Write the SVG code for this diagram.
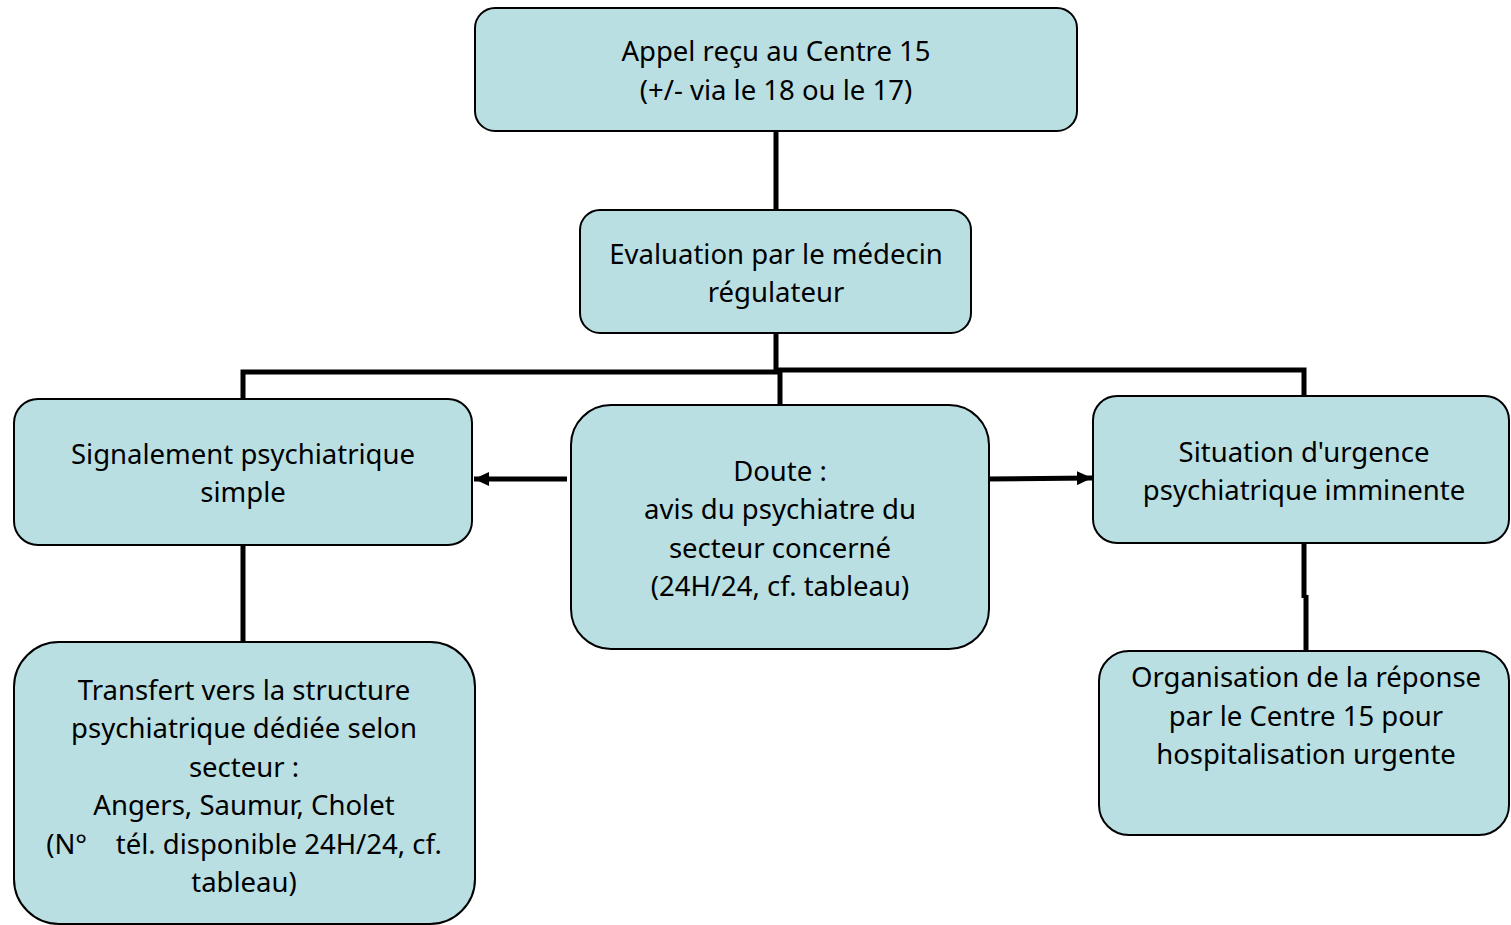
<svg xmlns="http://www.w3.org/2000/svg" width="1511" height="925" viewBox="0 0 1511 925">
<style>
.box{fill:#b9dfe3;stroke:#000;stroke-width:2}
.t{font-family:"Noto Sans","Open Sans","DejaVu Sans",sans-serif;font-size:27.5px;fill:#000;text-anchor:middle}
.c{stroke:#000;stroke-width:5;fill:none}
</style>
<defs>
<marker id="ah" markerWidth="3" markerHeight="2.8" refX="3" refY="1.4" orient="auto" markerUnits="strokeWidth">
<path d="M0,0 L3,1.4 L0,2.8 z" fill="#000"/>
</marker>
</defs>
<rect width="1511" height="925" fill="#fff"/>
<g id="connectors">
<path class="c" d="M776,131 V210"/>
<path class="c" d="M776,333 V372 H243 V399"/>
<path class="c" d="M776,370 H1304 V396"/>
<path class="c" d="M780,372 V405"/>
<path class="c" d="M567,479 H474" marker-end="url(#ah)"/>
<path class="c" d="M987,479 L1092,478" marker-end="url(#ah)"/>
<path class="c" d="M243,545 V642"/>
<path class="c" d="M1304,543 V598"/>
<path class="c" d="M1306,595 V651"/>
</g>
<g id="n1">
<rect class="box" x="475" y="8" width="602" height="123" rx="20"/>
<text class="t" x="776" y="61">Appel reçu au Centre 15</text>
<text class="t" x="776" y="100">(+/- via le 18 ou le 17)</text>
</g>
<g id="n2">
<rect class="box" x="580" y="210" width="391" height="123" rx="20"/>
<text class="t" x="776" y="264">Evaluation par le médecin</text>
<text class="t" x="776" y="302">régulateur</text>
</g>
<g id="n3">
<rect class="box" x="14" y="399" width="458" height="146" rx="24"/>
<text class="t" x="243" y="464">Signalement psychiatrique</text>
<text class="t" x="243" y="502">simple</text>
</g>
<g id="n4">
<rect class="box" x="571" y="405" width="418" height="244" rx="40"/>
<text class="t" x="780" y="481">Doute :</text>
<text class="t" x="780" y="519">avis du psychiatre du</text>
<text class="t" x="780" y="558">secteur concerné</text>
<text class="t" x="780" y="596">(24H/24, cf. tableau)</text>
</g>
<g id="n5">
<rect class="box" x="1093" y="396" width="416" height="147" rx="24"/>
<text class="t" x="1304" y="462">Situation d'urgence</text>
<text class="t" x="1304" y="500">psychiatrique imminente</text>
</g>
<g id="n6">
<rect class="box" x="14" y="642" width="461" height="282" rx="45"/>
<text class="t" x="244" y="700">Transfert vers la structure</text>
<text class="t" x="244" y="738">psychiatrique dédiée selon</text>
<text class="t" x="244" y="777">secteur :</text>
<text class="t" x="244" y="815">Angers, Saumur, Cholet</text>
<text class="t" x="244" y="854" style="white-space:pre">(N°    tél. disponible 24H/24, cf.</text>
<text class="t" x="244" y="892">tableau)</text>
</g>
<g id="n7">
<rect class="box" x="1099" y="651" width="410" height="184" rx="30"/>
<text class="t" x="1306" y="687">Organisation de la réponse</text>
<text class="t" x="1306" y="726">par le Centre 15 pour</text>
<text class="t" x="1306" y="764">hospitalisation urgente</text>
</g>
</svg>
